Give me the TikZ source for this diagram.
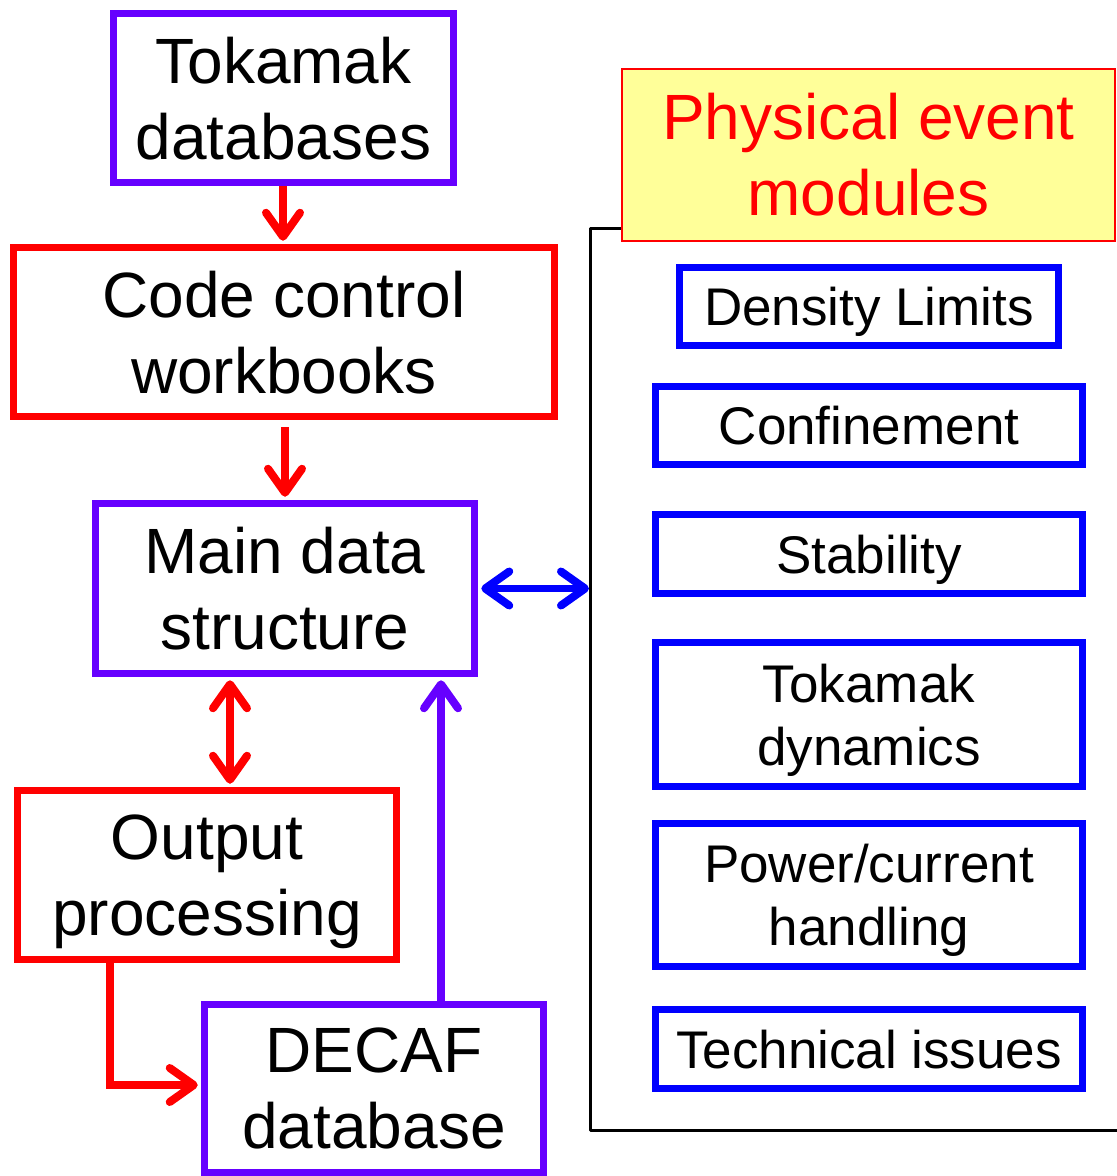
\documentclass[tikz,border=0pt]{standalone}
\usepackage{fontspec}
\setmainfont{Liberation Sans}
\usetikzlibrary{arrows.meta}
\definecolor{vio}{RGB}{102,0,255}
\definecolor{rd}{RGB}{255,0,0}
\definecolor{bl}{RGB}{0,0,255}
\definecolor{yel}{RGB}{255,255,153}
\tikzset{
  bigbox/.style={draw, line width=7.5pt, rectangle, inner sep=0pt, align=center, text depth=0pt,
    font=\fontsize{64}{76}\selectfont},
  vbox/.style={bigbox, draw=vio},
  rbox/.style={bigbox, draw=rd},
  modbox/.style={draw=bl, line width=7.5pt, rectangle, inner sep=0pt, align=center, text depth=0pt,
    font=\fontsize{53}{63}\selectfont},
  pembox/.style={draw=rd, fill=yel, line width=2pt, rectangle, inner sep=0pt, align=center,
    text=rd, font=\fontsize{64}{76}\selectfont},
  arrowhd/.tip={Straight Barb[length=24pt, width=34pt, line width=8pt, round]},
  tip/.style={-arrowhd},
  dtip/.style={arrowhd-arrowhd},
  conn/.style={line width=7.5pt},
}
\begin{document}
\begin{tikzpicture}[x=1pt, y=-1pt]
\useasboundingbox (0,0) rectangle (1117,1176);
% bracket
\coordinate (bt) at (621,228);
\coordinate (bc) at (590,228);
\coordinate (bb) at (590,1130);
\coordinate (br) at (1117,1130);
\coordinate (bm) at (590,588.5);
\draw[black, line width=3pt, line join=round] (bt) -- (bc) -- (bb) -- (br);
% left boxes
\node[vbox, minimum width=340pt, minimum height=169pt] (tok) at (283.5,98) {Tokamak\\databases};
\node[rbox, minimum width=541pt, minimum height=169pt] (ccw) at (284,332) {Code control\\workbooks};
\node[vbox, minimum width=379pt, minimum height=170pt] (mds) at (285,588.5) {Main data\\structure};
\node[rbox, minimum width=379pt, minimum height=169pt] (out) at (207,875) {Output\\processing};
\node[vbox, minimum width=339pt, minimum height=168pt] (decaf) at (374,1088.5) {DECAF\\database};
% right side
\node[pembox, minimum width=493pt, minimum height=172pt] (pem) at (868.5,155) {Physical event\\modules};
\node[modbox, minimum width=379pt, minimum height=78pt] (dens) at (869,306.5) {Density Limits};
\node[modbox, minimum width=427pt, minimum height=78pt] (conf) at (869,425.5) {Confinement};
\node[modbox, minimum width=427pt, minimum height=79pt] (stab) at (869,554) {Stability};
\node[modbox, minimum width=427pt, minimum height=144pt] (dyn) at (869,714.5) {Tokamak\\dynamics};
\node[modbox, minimum width=427pt, minimum height=143pt] (pow) at (869,895) {Power/current\\handling};
\node[modbox, minimum width=427pt, minimum height=79pt] (tech) at (869,1049) {Technical issues};
% connectors
\coordinate (x283) at (283,0);
\coordinate (x285) at (285,0);
\coordinate (x230) at (230,0);
\coordinate (x441) at (441,0);
\coordinate (x110) at (110,0);
\coordinate (ycorner) at (0,1085);
\draw[conn, rd, tip, shorten >=3pt] (tok.south -| x283) -- (ccw.north -| x283);
\draw[conn, rd, tip, shorten >=3pt, shorten <=7pt] (ccw.south -| x285) -- (mds.north -| x285);
\draw[conn, bl, dtip, shorten <=3pt, shorten >=1pt] (mds.east) -- (bm);
\draw[conn, rd, dtip, shorten <=3pt, shorten >=3pt] (mds.south -| x230) -- (out.north -| x230);
\draw[conn, vio, tip, shorten >=3pt] (decaf.north -| x441) -- (mds.south -| x441);
\draw[conn, rd, tip, shorten >=3pt] (out.south -| x110) -- (x110 |- ycorner) -- (decaf.west |- ycorner);
\end{tikzpicture}
\end{document}
